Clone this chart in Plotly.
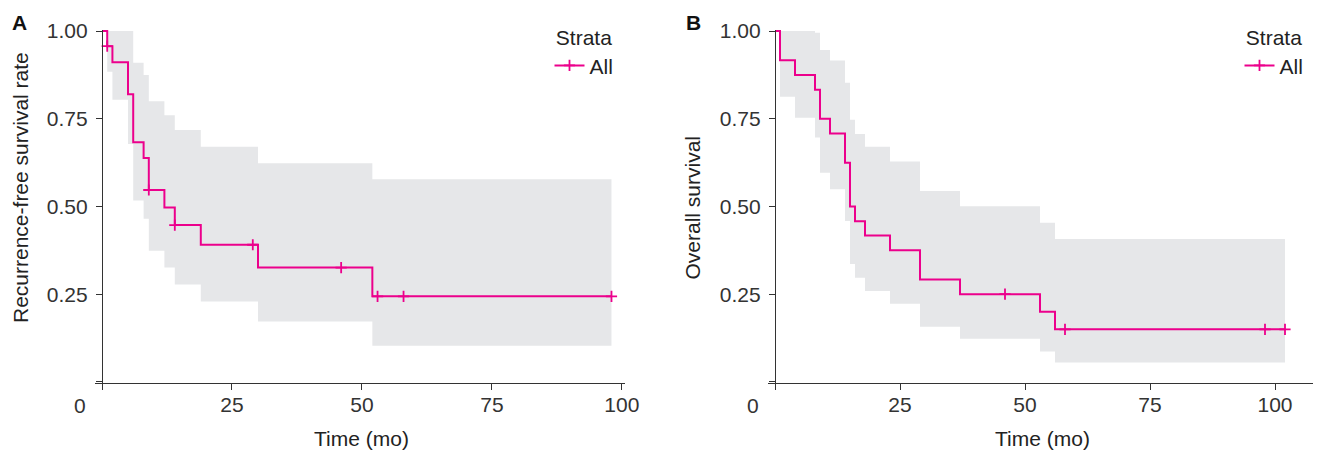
import numpy as np
import plotly.graph_objects as go

# ---------------- Panel A: recurrence-free survival ----------------
a_time = [0, 1, 2, 5, 6, 8, 9, 12, 14, 19, 30, 52]
a_surv = [1.0, 0.957, 0.911, 0.820, 0.683, 0.638, 0.547, 0.497, 0.447, 0.391, 0.326, 0.244]
a_upper = [1.0, 1.0, 1.0, 1.0, 0.910, 0.875, 0.800, 0.760, 0.718, 0.670, 0.623, 0.578]
a_lower = [1.0, 0.884, 0.804, 0.678, 0.517, 0.465, 0.374, 0.326, 0.278, 0.229, 0.172, 0.103]
a_end = 98
a_censor = [1, 9, 14, 29, 46, 53, 58, 98]

# ---------------- Panel B: overall survival ----------------
b_time = [0, 1, 4, 8, 9, 11, 14, 15, 16, 18, 23, 29, 37, 53, 56]
b_surv = [1.0, 0.917, 0.875, 0.833, 0.750, 0.708, 0.625, 0.500, 0.458, 0.417, 0.375, 0.292, 0.250, 0.200, 0.150]
b_upper = [1.0, 1.0, 1.0, 0.995, 0.946, 0.916, 0.853, 0.747, 0.707, 0.670, 0.628, 0.544, 0.501, 0.454, 0.407]
b_lower = [1.0, 0.813, 0.753, 0.697, 0.596, 0.549, 0.459, 0.336, 0.297, 0.259, 0.223, 0.157, 0.123, 0.087, 0.055]
b_end = 102
b_censor = [46, 58, 98, 102]

x_ticks = [0, 25, 50, 75, 100]
x_ticktext = ["", "25", "50", "75", "100"]
y_ticks = [0, 0.25, 0.50, 0.75, 1.00]
y_ticktext = ["", "0.25", "0.50", "0.75", "1.00"]

PINK = "#EC008C"
BAND = "#E6E7E9"
AXC = "#333333"
FONT = "Liberation Sans, Arial, Helvetica, sans-serif"

W, H = 1321, 450
OFF = 8  # page body margin


def px(x):
    return (x - OFF) / W


def py(y):
    return (H - (y - OFF)) / H


def step_at(times, vals, t):
    idx = np.searchsorted(np.asarray(times), np.asarray(t), side="right") - 1
    return list(np.asarray(vals)[idx])


def add_panel(fig, times, surv, upper, lower, end, censor, xa, ya, legend):
    tx = list(times) + [end]
    fig.add_trace(go.Scatter(x=tx, y=list(lower) + [lower[-1]], mode="lines",
                             line=dict(width=0, shape="hv"), hoverinfo="skip",
                             showlegend=False, xaxis=xa, yaxis=ya))
    fig.add_trace(go.Scatter(x=tx, y=list(upper) + [upper[-1]], mode="lines",
                             line=dict(width=0, shape="hv"), fill="tonexty",
                             fillcolor=BAND, hoverinfo="skip",
                             showlegend=False, xaxis=xa, yaxis=ya))
    fig.add_trace(go.Scatter(x=tx, y=list(surv) + [surv[-1]], mode="lines",
                             line=dict(width=2, color=PINK, shape="hv"),
                             showlegend=False, xaxis=xa, yaxis=ya))
    fig.add_trace(go.Scatter(x=censor, y=step_at(times, surv, censor), mode="markers",
                             marker=dict(symbol="cross-thin", size=8, color=PINK,
                                         line=dict(width=1.8, color=PINK)),
                             showlegend=False, xaxis=xa, yaxis=ya, cliponaxis=False))
    # legend entry
    fig.add_trace(go.Scatter(x=[None], y=[None], mode="lines+markers", name="All",
                             line=dict(width=2, color=PINK),
                             marker=dict(symbol="cross-thin", size=8, color=PINK,
                                         line=dict(width=1.8, color=PINK)),
                             showlegend=True, legend=legend, xaxis=xa, yaxis=ya))


fig = go.Figure()
add_panel(fig, a_time, a_surv, a_upper, a_lower, a_end, a_censor, "x", "y", "legend")
add_panel(fig, b_time, b_surv, b_upper, b_lower, b_end, b_censor, "x2", "y2", "legend2")

ydom = [py(383.3), py(29.7)]

xcommon = dict(tickvals=x_ticks, ticktext=x_ticktext, ticks="outside", ticklen=6,
               tickwidth=1.2, tickcolor=AXC, showline=True, linecolor=AXC, linewidth=1.2,
               showgrid=False, zeroline=False, tickfont=dict(size=21, color="#333"),
               automargin=False, ticklabelstandoff=-4)
ycommon = dict(tickvals=y_ticks, ticktext=y_ticktext, ticks="outside", ticklen=6,
               tickwidth=1.2, tickcolor=AXC, showline=True, linecolor=AXC, linewidth=1.2,
               showgrid=False, zeroline=False, tickfont=dict(size=21, color="#333"),
               automargin=False, ticklabelstandoff=4,
               range=[-0.004, 1.004], domain=ydom, anchor="free")

fig.update_layout(
    template="none",
    width=W, height=H, margin=dict(l=0, r=0, t=0, b=0, pad=0),
    plot_bgcolor="white", paper_bgcolor="white",
    font=dict(family=FONT, size=21, color="#222"),
    xaxis=dict(domain=[px(95), px(625)], range=[-1.35, 100.6], anchor="y", **xcommon),
    xaxis2=dict(domain=[px(768.3), px(1313)], range=[-1.34, 107.6], anchor="y2", **xcommon),
    yaxis=dict(position=px(102), **ycommon),
    yaxis2=dict(position=px(775), **ycommon),
    legend=dict(x=px(584), xanchor="center", y=py(18), yanchor="top",
                title=dict(text="Strata", side="top center", font=dict(size=21)),
                font=dict(size=21), bgcolor="rgba(0,0,0,0)", borderwidth=0),
    legend2=dict(x=px(1274), xanchor="center", y=py(18), yanchor="top",
                 title=dict(text="Strata", side="top center", font=dict(size=21)),
                 font=dict(size=21), bgcolor="rgba(0,0,0,0)", borderwidth=0),
)

ann = dict(xref="paper", yref="paper", showarrow=False, xanchor="center", yanchor="middle")
# axis titles
fig.add_annotation(text="Time (mo)", x=px(361.5), y=py(438), font=dict(size=21, color="#222"), **ann)
fig.add_annotation(text="Time (mo)", x=px(1042), y=py(438), font=dict(size=21, color="#222"), **ann)
fig.add_annotation(text="Recurrence-free survival rate", x=px(20), y=py(188), textangle=-90,
                   font=dict(size=21, color="#222"), **ann)
fig.add_annotation(text="Overall survival", x=px(692), y=py(207.5), textangle=-90,
                   font=dict(size=21, color="#222"), **ann)
# panel letters
fig.add_annotation(text="<b>A</b>", x=px(19.5), y=py(22.5), font=dict(size=21, color="#111"), **ann)
fig.add_annotation(text="<b>B</b>", x=px(693), y=py(22.5), font=dict(size=21, color="#111"), **ann)
# origin labels
ann0 = dict(ann, xanchor="right")
fig.add_annotation(text="0", x=px(88), y=py(405.5), font=dict(size=21, color="#333"), **ann0)
fig.add_annotation(text="0", x=px(761), y=py(405.5), font=dict(size=21, color="#333"), **ann0)

fig.write_html("out.html")
